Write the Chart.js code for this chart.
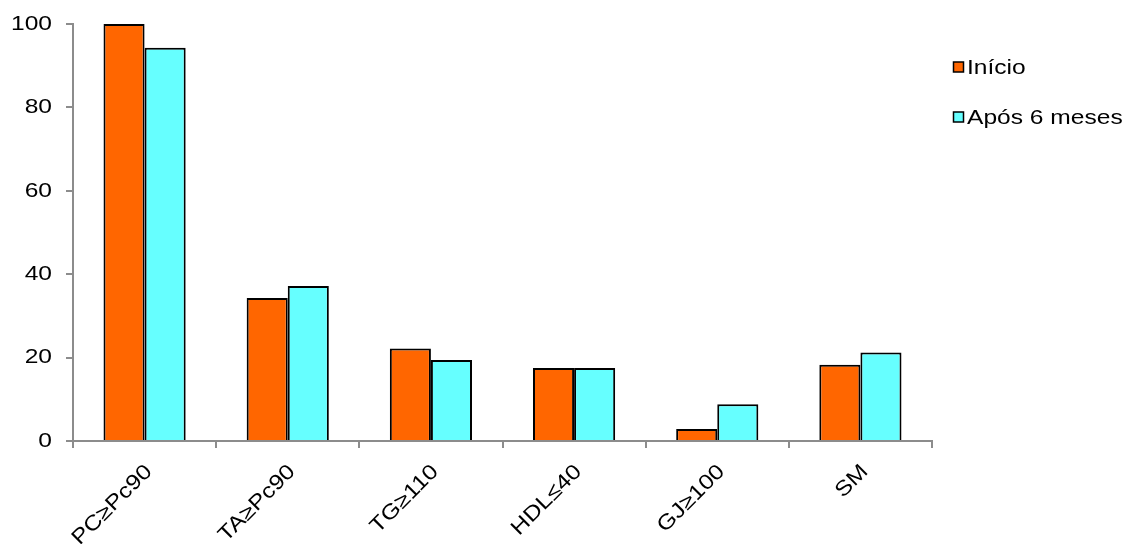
<!DOCTYPE html>
<html>
<head>
<meta charset="utf-8">
<script src="https://cdn.jsdelivr.net/npm/chart.js@4/dist/chart.umd.min.js"></script>
<style>
  html, body { margin: 0; padding: 0; background: #fff; }
  #wrap { width: 1133px; height: 544px; position: relative; }
</style>
</head>
<body>
<div id="wrap"><canvas id="c" width="1133" height="544"></canvas></div>
<script>
const categories = ['PC≥Pc90', 'TA≥Pc90', 'TG≥110', 'HDL≤40', 'GJ≥100', 'SM'];
const inicio = [100, 34.3, 22.2, 17.5, 2.9, 18.3];
const apos6 = [94.3, 37.2, 19.4, 17.5, 8.8, 21.2];
const seriesNames = ['Início', 'Após 6 meses'];
const yTicks = [0, 20, 40, 60, 80, 100];

const FONT = '21px "Liberation Sans", Arial, sans-serif';
const STRETCH = 1.17;         // wide lettering used throughout the figure
const AXIS_GREY = '#8c8c8c';

function drawText(ctx, text, x, y, align, baseline, angle) {
  ctx.save();
  ctx.translate(x, y);
  if (angle) ctx.rotate(angle);
  ctx.scale(STRETCH, 1);
  ctx.font = FONT;
  ctx.fillStyle = '#000';
  ctx.textAlign = align;
  ctx.textBaseline = baseline;
  ctx.fillText(text, 0, 0);
  ctx.restore();
}

// Axis labels and legend, placed from the chart's own scales
const wideText = {
  id: 'wideText',
  afterDraw(chart) {
    const ctx = chart.ctx;
    const xs = chart.scales.x, ys = chart.scales.y;

    yTicks.forEach(v => {
      drawText(ctx, String(v), ys.right - 21, ys.getPixelForValue(v), 'right', 'middle', 0);
    });

    categories.forEach((lab, i) => {
      drawText(ctx, lab, xs.getPixelForValue(i) - 3, xs.top + 20, 'right', 'top', -Math.PI / 4);
    });

    chart.data.datasets.forEach((ds, i) => {
      const cy = 67 + i * 50;
      ctx.save();
      ctx.fillStyle = ds.backgroundColor;
      ctx.fillRect(953.5, cy - 5, 10, 10);
      ctx.strokeStyle = '#000';
      ctx.lineWidth = 1.5;
      ctx.strokeRect(953.5, cy - 5, 10, 10);
      ctx.restore();
      drawText(ctx, ds.label, 967, cy + 1, 'left', 'middle', 0);
    });
  }
};

new Chart(document.getElementById('c'), {
  type: 'bar',
  data: {
    labels: categories,
    datasets: [
      { label: seriesNames[0], data: inicio, backgroundColor: '#FF6600', borderColor: '#000', borderWidth: 2 },
      { label: seriesNames[1], data: apos6, backgroundColor: '#66FFFF', borderColor: '#000', borderWidth: 2 }
    ]
  },
  options: {
    responsive: false,
    animation: false,
    devicePixelRatio: 1,
    layout: { padding: { top: 24, right: 201, left: 0, bottom: 0 } },
    datasets: { bar: { categoryPercentage: 0.574, barPercentage: 1.0 } },
    plugins: {
      legend: { display: false },
      tooltip: { enabled: false }
    },
    scales: {
      x: {
        offset: true,
        grid: {
          offset: true,
          drawOnChartArea: false,
          drawTicks: true,
          tickLength: 7,
          color: AXIS_GREY,
          lineWidth: 2
        },
        border: { color: AXIS_GREY, width: 2 },
        ticks: {
          color: 'rgba(0,0,0,0)',
          font: { family: 'Liberation Sans', size: 21 },
          maxRotation: 45,
          minRotation: 45,
          autoSkip: false
        },
        afterFit(scale) { scale.height = 103; }
      },
      y: {
        min: 0,
        max: 100,
        afterBuildTicks(scale) { scale.ticks = yTicks.map(v => ({ value: v })); },
        grid: {
          drawOnChartArea: false,
          drawTicks: true,
          tickLength: 7,
          color: AXIS_GREY,
          lineWidth: 2
        },
        border: { color: AXIS_GREY, width: 2 },
        ticks: {
          color: 'rgba(0,0,0,0)',
          font: { family: 'Liberation Sans', size: 21 }
        },
        afterFit(scale) { scale.width = 73; }
      }
    }
  },
  plugins: [wideText]
});
</script>
</body>
</html>
